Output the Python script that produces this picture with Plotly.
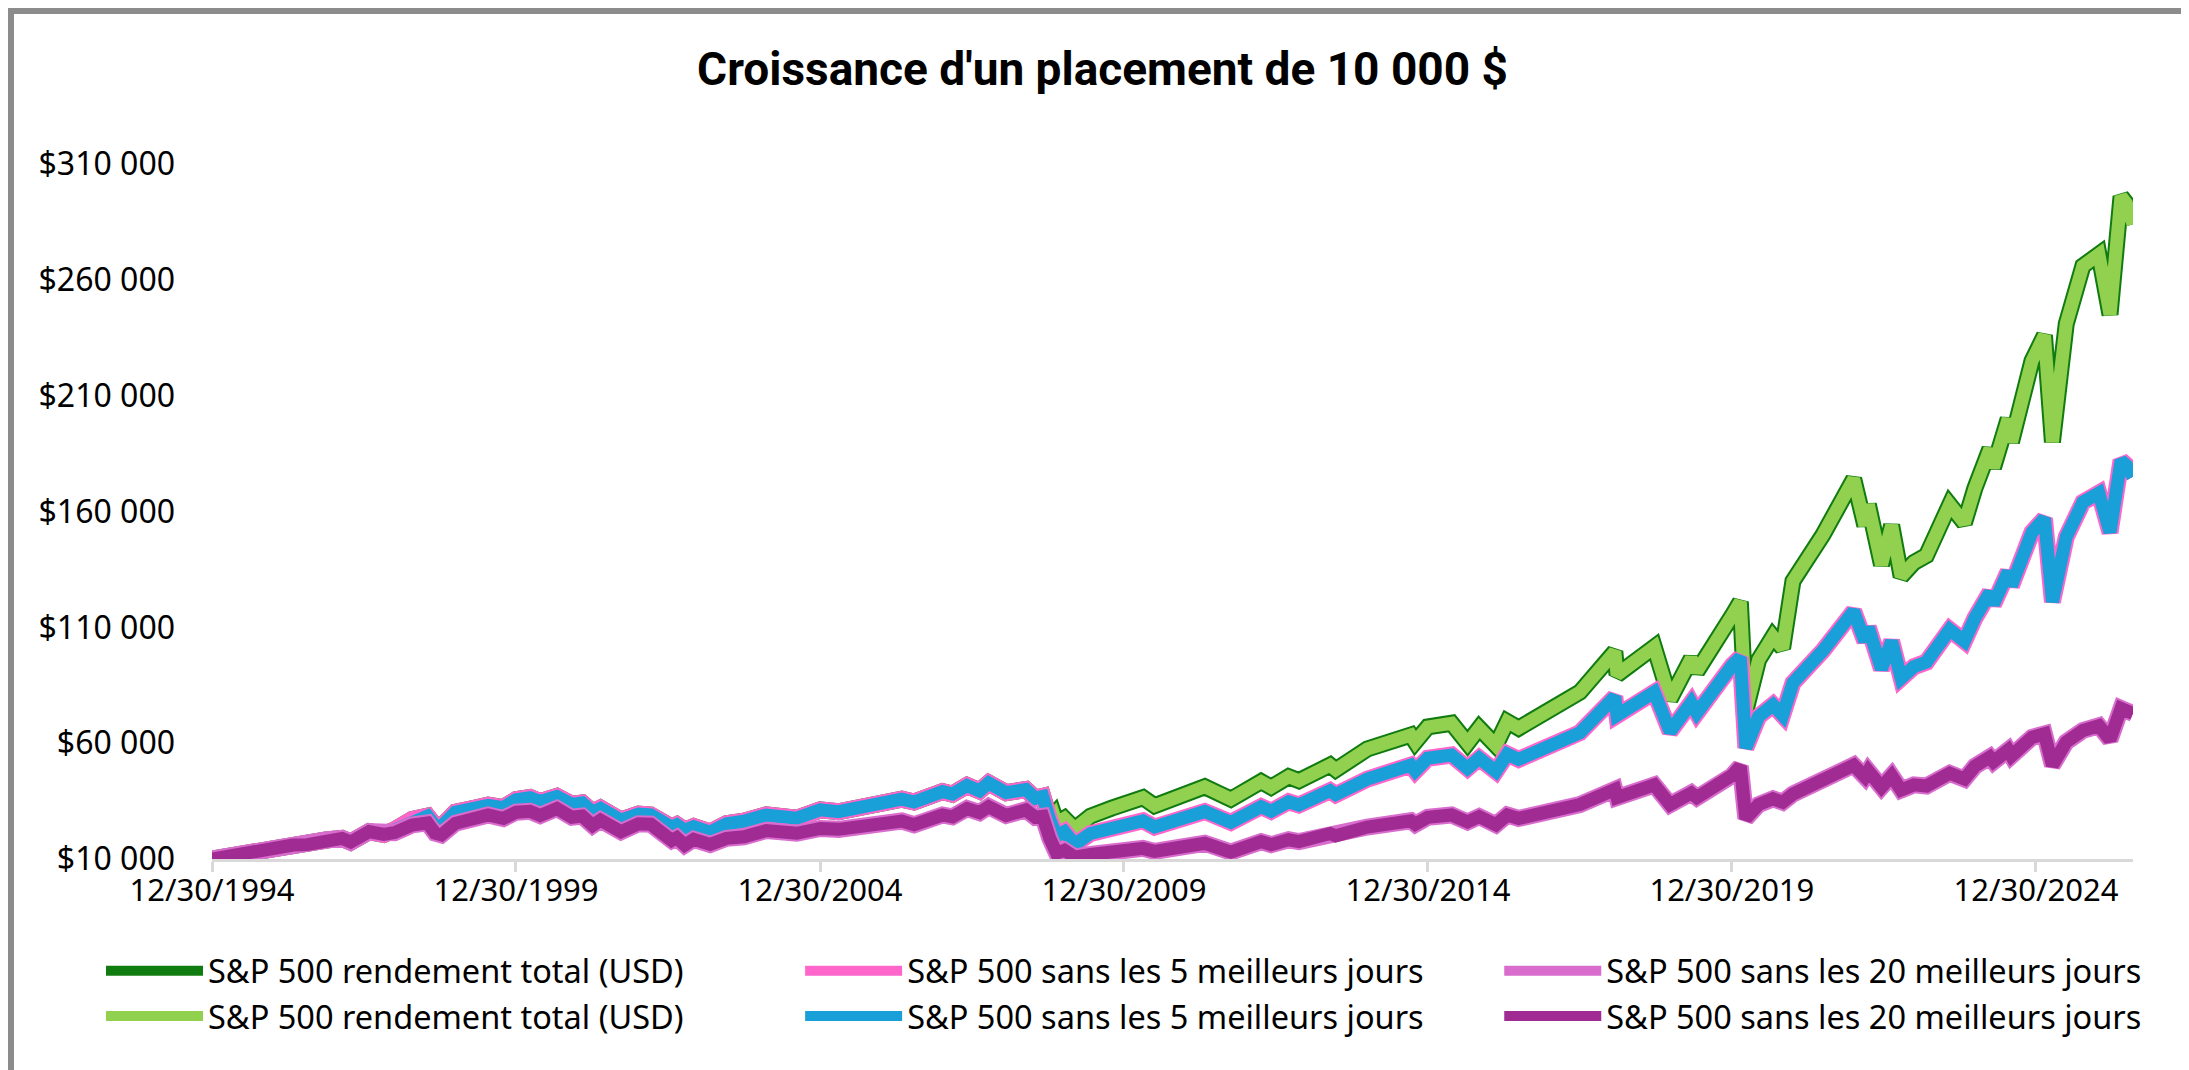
import plotly.graph_objects as go

# values (approximate)
dates = [
    "1994-12-30", "1995-04-28", "1995-07-31", "1995-12-29", "1996-04-30", "1996-07-24",
    "1996-11-15", "1997-02-18", "1997-04-11", "1997-07-31", "1997-10-27", "1997-12-31",
    "1998-04-15", "1998-07-17", "1998-08-31", "1998-10-08", "1998-12-31", "1999-04-30",
    "1999-07-16", "1999-10-15", "1999-12-31", "2000-03-24", "2000-05-24", "2000-09-01",
    "2000-11-30", "2001-01-31", "2001-04-04", "2001-05-21", "2001-09-21", "2002-01-04",
    "2002-03-19", "2002-07-23", "2002-08-22", "2002-10-09", "2002-12-02", "2003-03-11",
    "2003-06-17", "2003-09-30", "2004-02-11", "2004-08-12", "2004-12-31", "2005-04-20",
    "2005-07-29", "2005-12-01", "2006-05-05", "2006-07-18", "2007-01-05", "2007-03-05",
    "2007-06-01", "2007-08-15", "2007-10-09", "2008-01-22", "2008-05-19", "2008-07-15",
    "2008-08-29", "2008-10-10", "2008-11-04", "2008-11-20", "2009-01-06", "2009-03-09",
    "2009-06-12", "2009-10-19", "2010-04-23", "2010-07-02", "2011-04-29", "2011-10-03",
    "2012-04-02", "2012-06-01", "2012-09-14", "2012-11-15", "2013-05-21", "2013-06-24",
    "2013-12-31", "2014-09-18", "2014-10-15", "2014-12-29", "2015-05-21", "2015-08-25",
    "2015-11-03", "2016-02-11", "2016-04-20", "2016-06-27", "2016-12-30", "2017-06-30",
    "2018-01-26", "2018-02-08", "2018-09-20", "2018-12-24", "2019-04-30", "2019-06-03",
    "2019-12-31", "2020-02-19", "2020-03-23", "2020-06-08", "2020-09-02", "2020-10-30",
    "2020-12-31", "2021-06-30", "2021-12-31", "2022-03-08", "2022-03-29", "2022-06-16",
    "2022-08-16", "2022-10-12", "2022-12-28", "2023-03-13", "2023-07-31", "2023-10-27",
    "2023-12-29", "2024-03-28", "2024-04-19", "2024-07-16", "2024-08-05", "2024-12-06",
    "2025-02-19", "2025-04-08", "2025-06-30", "2025-10-08", "2026-01-12", "2026-03-20",
    "2026-05-25", "2026-06-26", "2026-08-05",
]

sp500_total = [
    10000, 11600, 13200, 15000, 16000, 16200, 18200, 18900, 17300, 21800, 20600, 22600,
    27000, 28500, 24400, 24000, 30200, 32000, 33200, 32200, 35600, 36500, 34800, 37000,
    33600, 34200, 30200, 31900, 26800, 29400, 29000, 23800, 24800, 22400, 24000, 21600,
    25200, 26300, 29000, 27600, 31200, 30400, 32000, 34000, 35800, 34600, 39100, 38000,
    41700, 39400, 42800, 38600, 40000, 36200, 37000, 27000, 29000, 25500, 27500, 23000,
    28500, 32000, 36500, 33000, 41200, 35800, 43400, 41000, 45500, 43800, 50500, 48500,
    57500, 63500, 60500, 67000, 68600, 60000, 66500, 59000, 69300, 66500, 74500, 82000,
    99500, 89500, 101500, 79000, 96500, 91000, 115000, 121000, 74000, 96000, 106000, 101000,
    130000, 150000, 174000, 154000, 163000, 137000, 154000, 132000, 138000, 141000, 163000, 155000,
    170000, 187000, 179000, 200000, 190000, 225000, 236000, 190000, 241000, 266000, 271000, 245000,
    296000, 293000, 284000,
]

sp500_minus_5 = [
    10000, 11600, 13200, 15000, 16000, 16200, 18200, 18900, 17300, 21800, 20600, 22600,
    27000, 28500, 24400, 24000, 30200, 32000, 33200, 32200, 35600, 36500, 34800, 37000,
    33600, 34200, 30200, 31900, 26800, 29400, 29000, 23800, 24800, 22400, 24000, 21600,
    25200, 26300, 29000, 27600, 31200, 30400, 32000, 34000, 35800, 34600, 39100, 38000,
    41700, 39400, 42800, 38600, 40000, 36200, 37000, 27000, 23000, 20000, 21800, 16300,
    21000, 23600, 26500, 23800, 30500, 25800, 32600, 30600, 34700, 33300, 39500, 37800,
    44500, 50500, 48000, 53500, 54900, 49100, 53500, 47800, 55300, 53000, 59000, 64500,
    80000, 72000, 82000, 65000, 77500, 73000, 93500, 97000, 58000, 71500, 76500, 72000,
    86000, 100000, 117000, 104000, 110000, 92000, 104000, 88000, 93000, 95000, 109000, 104000,
    114000, 125000, 120000, 134000, 128000, 151000, 157000, 121000, 149000, 164000, 168000, 151000,
    182000, 180000, 175000,
]

sp500_minus_20 = [
    10000, 11600, 13200, 15000, 16000, 16200, 18200, 18900, 17300, 21800, 20600, 21400,
    24700, 25600, 21200, 20400, 25400, 28300, 29000, 27500, 30200, 30600, 28800, 31800,
    28000, 28500, 24500, 26800, 21800, 25200, 25000, 18000, 19200, 16000, 18500, 16300,
    18900, 19600, 22300, 21100, 23200, 22800, 24100, 25400, 26400, 24800, 29000, 28200,
    31800, 30000, 32600, 28800, 31200, 28000, 28400, 19000, 15500, 12500, 13800, 10800,
    12000, 13000, 14600, 13300, 16800, 13000, 17500, 16200, 18300, 17500, 21000, 20000,
    23800, 26500, 25000, 28000, 29000, 26000, 28300, 24800, 29000, 27500, 31000, 33500,
    40000, 36500, 42000, 33500, 38500, 36500, 46000, 50000, 27500, 33500, 36000, 34500,
    38000, 43500, 50500, 45500, 48000, 41000, 46000, 39800, 42000, 41500, 47000, 44500,
    50000, 54000, 52000, 57000, 54500, 62500, 64000, 50500, 60500, 65500, 67500, 61500,
    75000, 74000, 72800,
]

x_tick_dates = ["1994-12-30", "1999-12-30", "2004-12-30", "2009-12-30",
                "2014-12-30", "2019-12-30", "2024-12-30"]
x_tick_labels = ["12/30/1994", "12/30/1999", "12/30/2004", "12/30/2009",
                 "12/30/2014", "12/30/2019", "12/30/2024"]
y_tick_values = [10000, 60000, 110000, 160000, 210000, 260000, 310000]
y_tick_labels = ["$10 000", "$60 000", "$110 000", "$160 000",
                 "$210 000", "$260 000", "$310 000"]

label_total = "S&P 500 rendement total (USD)"
label_5 = "S&P 500 sans les 5 meilleurs jours"
label_20 = "S&P 500 sans les 20 meilleurs jours"

W, H = 2189, 1070
M_L, M_R, M_T, M_B = 204, 64, 156, 219
PLOT_W = W - M_L - M_R
PLOT_H = H - M_T - M_B

FONT = "Noto Sans"

fig = go.Figure()

# each series = a wide outline trace with a narrower one on top
series = [
    (sp500_total, label_total, "#107C10", 17, "#92D050", 13, 1),
    (sp500_minus_5, label_5, "#FF66CC", 17, "#1AA0D8", 13, 2),
    (sp500_minus_20, label_20, "#D86DCD", 17, "#A02B93", 13, 3),
]
for values, name, outer_color, outer_w, inner_color, inner_w, rank in series:
    fig.add_trace(go.Scatter(
        x=dates, y=values, name=name, mode="lines",
        line=dict(color=outer_color, width=outer_w),
        legendrank=rank,
    ))
    fig.add_trace(go.Scatter(
        x=dates, y=values, name=name, mode="lines",
        line=dict(color=inner_color, width=inner_w),
        legendrank=rank + 3,
    ))

fig.update_layout(
    width=W,
    height=H,
    margin=dict(l=M_L, r=M_R, t=M_T, b=M_B, autoexpand=False),
    paper_bgcolor="white",
    plot_bgcolor="white",
    font=dict(family=FONT, size=32, color="#000000"),
    title=dict(
        text="Croissance d'un placement de 10 000 $",
        font=dict(family="Roboto", size=46, color="#000000", weight="bold"),
        x=0.5, xref="container", xanchor="center",
        y=1 - 61 / H, yref="container", yanchor="middle",
    ),
    showlegend=True,
    legend=dict(
        orientation="h",
        x=(93 - M_L) / PLOT_W, xanchor="left",
        y=(H - 935 - M_B) / PLOT_H, yanchor="top",
        entrywidthmode="fraction",
        entrywidth=0.329,
        itemwidth=97,
        font=dict(family=FONT, size=32.5, color="#000000"),
        bgcolor="rgba(0,0,0,0)",
        traceorder="normal",
    ),
    xaxis=dict(
        type="date",
        range=[dates[0], dates[-1]],
        tickvals=x_tick_dates,
        ticktext=x_tick_labels,
        showgrid=False,
        zeroline=False,
        showline=True,
        linecolor="#D9D9D9",
        linewidth=3,
        ticks="outside",
        ticklen=10,
        tickwidth=3,
        tickcolor="#D9D9D9",
        ticklabelstandoff=-8,
        tickfont=dict(family=FONT, size=31),
    ),
    yaxis=dict(
        range=[10000, 310000],
        tickvals=y_tick_values,
        ticktext=y_tick_labels,
        showgrid=False,
        zeroline=False,
        showline=False,
        ticks="",
        ticklabelstandoff=36,
        tickfont=dict(family=FONT, size=32),
    ),
)

# grey frame around the whole picture
fig.add_shape(
    type="rect", xref="paper", yref="paper",
    x0=(3 - M_L) / PLOT_W, x1=(W - 3 - M_L) / PLOT_W,
    y0=(3 - M_B) / PLOT_H, y1=(H - 3 - M_B) / PLOT_H,
    line=dict(color="#8C8C8C", width=6),
    fillcolor="rgba(0,0,0,0)",
    layer="above",
)

fig.write_html("out.html")
